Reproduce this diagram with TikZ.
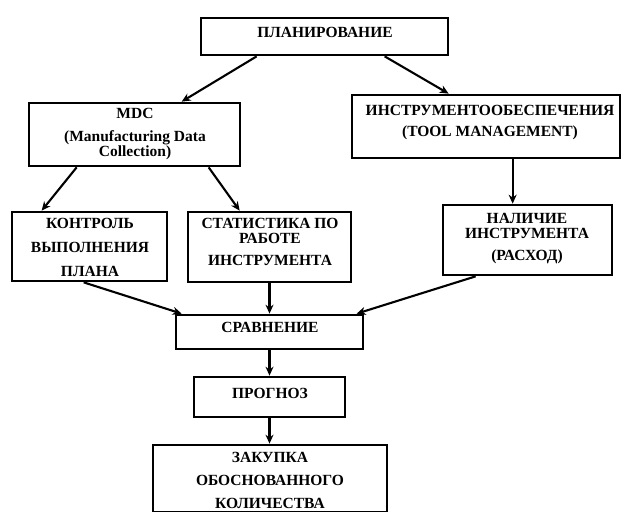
\documentclass[tikz,border=0pt]{standalone}
\usepackage{fontspec}
\setmainfont{Liberation Serif}
\usetikzlibrary{arrows.meta}
\begin{document}
\begin{tikzpicture}[x=1pt,y=-1pt,
  box/.style={draw=black, line width=2.7pt, rectangle, inner sep=0pt},
  txt/.style={font=\fontsize{15.5}{15.5}\selectfont\bfseries, align=center, inner sep=0pt},
  arr/.style={-{Stealth[length=9pt,width=8pt]}, line width=2.1pt}]
\useasboundingbox (0,0) rectangle (623,511);
% boxes
\node[box, minimum width=247pt, minimum height=37pt] (plan) at (324.5,36.5) {};
\node[box, minimum width=211pt, minimum height=63pt] (mdc) at (134.5,134.5) {};
\node[box, minimum width=268pt, minimum height=63pt] (tool) at (486,126.5) {};
\node[box, minimum width=155pt, minimum height=69pt] (kontrol) at (89.5,246.5) {};
\node[box, minimum width=163pt, minimum height=70pt] (stat) at (269.5,247) {};
\node[box, minimum width=169pt, minimum height=70pt] (nal) at (527.5,240) {};
\node[box, minimum width=187pt, minimum height=34pt] (srav) at (269.5,332) {};
\node[box, minimum width=151pt, minimum height=40pt] (prog) at (269.5,397) {};
\node[box, minimum width=234pt, minimum height=67pt] (zak) at (270,478.5) {};
% texts
\node[txt] (tplan) at (325,32) {ПЛАНИРОВАНИЕ};
\node[txt] (tmdc) at (135,134) {MDC\\[7.5pt](Manufacturing Data\\[-0.5pt]Collection)};
\node[txt] (ttool) at (490,122.5) {ИНСТРУМЕНТООБЕСПЕЧЕНИЯ\\[5.5pt](TOOL MANAGEMENT)};
\node[txt] (tkontrol) at (90,247) {КОНТРОЛЬ\\[8.5pt]ВЫПОЛНЕНИЯ\\[8.5pt]ПЛАНА};
\node[txt] (tstat) at (270,241.5) {СТАТИСТИКА ПО\\[-0.5pt]РАБОТЕ\\[6.5pt]ИНСТРУМЕНТА};
\node[txt] (tnal) at (527,238.5) {НАЛИЧИЕ\\[-0.5pt]ИНСТРУМЕНТА\\[6pt](РАСХОД)};
\node[txt] (tsrav) at (270,327) {СРАВНЕНИЕ};
\node[txt] (tprog) at (270,393) {ПРОГНОЗ};
\node[txt] (tzak) at (270,480) {ЗАКУПКА\\[7.5pt]ОБОСНОВАННОГО\\[7.5pt]КОЛИЧЕСТВА};
% connectors
\draw[arr] ([xshift=57pt]plan.south west) -- ([xshift=154pt]mdc.north west);
\draw[arr] ([xshift=185pt]plan.south west) -- ([xshift=98pt]tool.north west);
\draw[arr] ([xshift=49pt]mdc.south west) -- ([xshift=31pt]kontrol.north west);
\draw[arr] ([xshift=181pt]mdc.south west) -- ([xshift=53pt]stat.north west);
\draw[arr] ([xshift=162pt]tool.south west) -- ([xshift=71pt]nal.north west);
\draw[arr] ([xshift=73pt]kontrol.south west) -- ([xshift=7pt]srav.north west);
\draw[arr] (stat.south) -- (srav.north);
\draw[arr] ([xshift=34pt]nal.south west) -- ([xshift=182pt]srav.north west);
\draw[arr] (srav.south) -- (prog.north);
\draw[arr] (prog.south) -- (prog.south |- zak.north);
\end{tikzpicture}
\end{document}
